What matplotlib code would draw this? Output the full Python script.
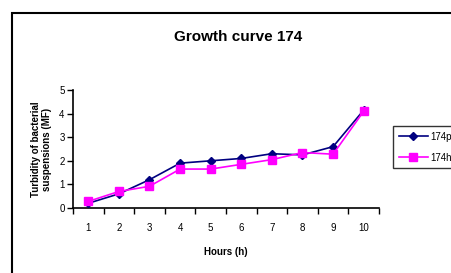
import matplotlib
matplotlib.use("Agg")
import matplotlib.pyplot as plt
from matplotlib.patches import Rectangle
import numpy as np

hours = [1, 2, 3, 4, 5, 6, 7, 8, 9, 10]
series_p = [0.2, 0.6, 1.2, 1.9, 2.0, 2.1, 2.3, 2.25, 2.6, 4.15]
series_h = [0.28, 0.7, 0.92, 1.65, 1.65, 1.85, 2.05, 2.35, 2.28, 4.1]
label_p = "174p"
label_h = "174h"
yticks = [0, 1, 2, 3, 4, 5]

plt.rcParams['font.family'] = ['Liberation Sans', 'DejaVu Sans']

fig = plt.figure(figsize=(4.52, 2.73), dpi=100)
fig.patch.set_facecolor('white')

# outer chart border
fig.patches.append(Rectangle((12/452, -0.1), 1.2, 1 - 13/273 + 0.1,
                             transform=fig.transFigure, fill=False,
                             edgecolor='black', linewidth=1.5, clip_on=False))

ax = fig.add_axes([73/452, 1 - 208/273, (379 - 73)/452, (208 - 90)/273])
ax.plot(hours, series_p, color='#000080', marker='D', markersize=4.5,
        linewidth=1.2, label=label_p, zorder=3)
ax.plot(hours, series_h, color='#FF00FF', marker='s', markersize=6,
        linewidth=1.2, label=label_h, zorder=4)

ax.set_xlim(0.5, 10.5)
ax.set_ylim(0, 5)
ax.set_xticks(np.arange(0.5, 11, 1))
ax.set_xticklabels([])
ax.set_xticks(hours, minor=True)
ax.set_xticklabels([str(h) for h in hours], minor=True, fontsize=7)
ax.tick_params(axis='x', which='minor', length=0, pad=11)
ax.tick_params(axis='x', which='major', length=4, width=1, direction='out')
ax.set_yticks(yticks)
ax.set_yticklabels([str(v) for v in yticks], fontsize=7)
ax.tick_params(axis='y', length=4, width=1, direction='out', pad=2)

for s in ['top', 'right']:
    ax.spines[s].set_visible(False)
for s in ['left', 'bottom']:
    ax.spines[s].set_linewidth(1.2)

ax.set_xlabel('Hours (h)', fontsize=7, fontweight='bold', labelpad=10,
              family=['Liberation Sans Narrow', 'Liberation Sans', 'DejaVu Sans'])
ax.set_ylabel('Turbidity of bacterial\nsuspensions (MF)', fontsize=7,
              fontweight='bold', labelpad=5, linespacing=1.15)

fig.text(238/452, 1 - 37/273, 'Growth curve 174', ha='center', va='center',
         fontsize=11, fontweight='bold',
         family=['Liberation Sans Narrow', 'Liberation Sans', 'DejaVu Sans'])

leg = ax.legend(loc='upper left', bbox_to_anchor=(393/452, 1 - 126/273),
                bbox_transform=fig.transFigure, borderaxespad=0,
                fontsize=7, frameon=True,
                fancybox=False, edgecolor='black', handlelength=3.0,
                borderpad=0.6, labelspacing=1.1, handletextpad=0.2)
leg.get_frame().set_linewidth(1.0)

fig.savefig('out.png', dpi=100)
